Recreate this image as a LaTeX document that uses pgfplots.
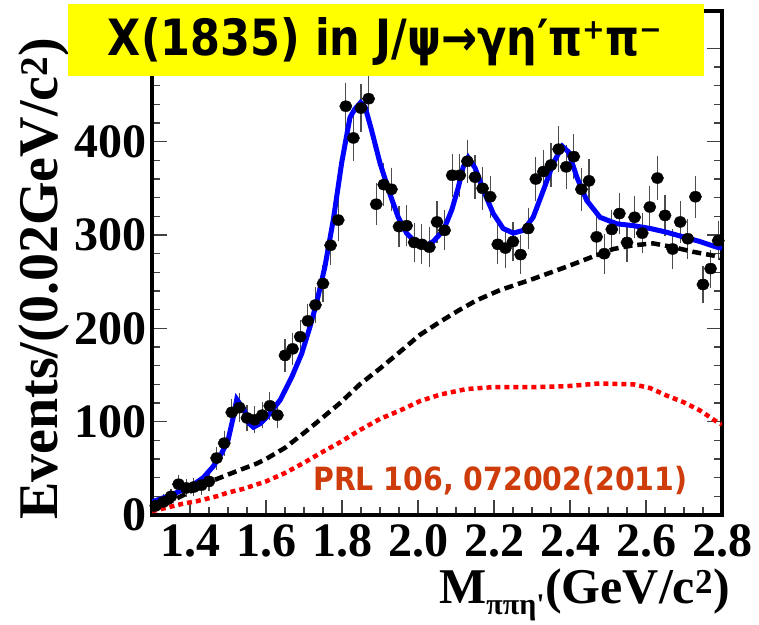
\documentclass[border=0pt]{standalone}
\usepackage{fontspec}
\setmainfont{Liberation Serif}
\newfontfamily\titlefont{DejaVu Sans}
\usepackage{graphicx}
\usepackage{pgfplots}
\pgfplotsset{compat=1.18}
\definecolor{prlred}{RGB}{205,60,10}
\definecolor{ttl}{RGB}{255,255,0}
\pgfplotstableread{
x y e
1.31 10 3
1.33 14 4
1.35 20 4
1.37 33 6
1.39 29 5
1.41 30 5
1.43 32 6
1.45 36 6
1.47 61 8
1.49 77 9
1.51 110 10
1.53 115 11
1.55 104 10
1.57 102 10
1.59 107 10
1.61 117 11
1.63 107 10
1.65 171 13
1.67 178 13
1.69 191 14
1.71 208 14
1.73 225 15
1.75 248 16
1.77 289 17
1.79 316 18
1.81 438 21
1.83 404 20
1.85 436 21
1.87 446 21
1.89 333 18
1.91 354 19
1.93 349 19
1.95 309 18
1.97 310 18
1.99 292 17
2.01 290 17
2.03 287 17
2.05 314 18
2.07 305 17
2.09 364 19
2.11 364 19
2.13 379 19
2.15 362 19
2.17 350 19
2.19 341 18
2.21 290 17
2.23 286 17
2.25 293 17
2.27 279 17
2.29 307 18
2.31 360 19
2.33 368 19
2.35 375 19
2.37 392 20
2.39 373 19
2.41 384 20
2.43 349 19
2.45 358 19
2.47 298 17
2.49 280 17
2.51 306 17
2.53 323 18
2.55 292 17
2.57 319 18
2.59 302 17
2.61 330 18
2.63 361 19
2.65 321 18
2.67 285 17
2.69 314 18
2.71 296 17
2.73 341 18
2.75 247 16
2.77 264 16
2.79 294 17
}\datatable
\begin{document}
\begin{tikzpicture}
\useasboundingbox (0,0) rectangle (759pt,-624pt);
\begin{axis}[
  at={(152pt,-515pt)}, anchor=south west,
  scale only axis, width=570pt, height=504pt,
  xmin=1.3, xmax=2.8, ymin=0, ymax=540,
  xtick={1.4,1.6,1.8,2.0,2.2,2.4,2.6,2.8},
  minor x tick num=3,
  ytick={0,100,200,300,400,500},
  yticklabels={0,100,200,300,400,},
  minor y tick num=4,
  tick align=inside,
  major tick length=15pt, minor tick length=8pt,
  axis line style={line width=3.5pt},
  every tick/.style={line width=1.3pt, black!75},
  /pgf/number format/assume math mode=true,
  xticklabel style={/pgf/number format/.cd, fixed, fixed zerofill, precision=1},
  ticklabel style={font=\fontsize{48}{48}\selectfont\bfseries},
  xticklabel shift=6pt,
  yticklabel shift=2pt,
  clip=true,
]
\addplot[only marks, mark=*, mark size=5.5pt, mark options={xscale=1.12, black},
  error bars/.cd, y dir=both, y explicit,
  error bar style={line width=1.2pt, black!70},
  error mark options={line width=1.2pt, black!70, mark size=4pt}]
  table[x=x, y=y, y error=e] {\datatable};
\addplot[red, line width=4.5pt, dash pattern=on 5pt off 4pt] coordinates {
(1.30,4) (1.34,8) (1.38,12) (1.42,15) (1.47,20) (1.50,24) (1.54,28) (1.60,36) (1.65,45)
(1.70,56) (1.742,66) (1.795,78) (1.847,91) (1.90,103) (1.953,112) (2.005,122)
(2.058,129) (2.128,135) (2.198,137) (2.303,137) (2.391,138) (2.479,141)
(2.567,140) (2.611,136) (2.654,128) (2.698,121) (2.742,112) (2.786,100) (2.80,97)};
\addplot[black, line width=4.5pt, dash pattern=on 9pt off 5pt] coordinates {
(1.30,5) (1.347,14) (1.40,25) (1.461,37) (1.523,47) (1.575,55) (1.60,60) (1.65,72)
(1.70,88) (1.742,102) (1.795,120) (1.847,140) (1.90,157) (1.953,175) (2.005,193)
(2.058,207) (2.106,219) (2.154,230) (2.216,241) (2.303,253) (2.391,266) (2.461,277)
(2.514,285) (2.567,289) (2.619,291) (2.672,287) (2.724,282) (2.777,278) (2.80,275)};
\addplot[blue, line width=5pt] coordinates {
(1.30,14) (1.347,21) (1.40,30) (1.435,40) (1.461,52) (1.483,66) (1.50,80) (1.514,105)
(1.523,124) (1.543,112) (1.556,98) (1.567,94) (1.585,98) (1.602,105) (1.637,123)
(1.668,148) (1.694,173) (1.716,202) (1.733,227) (1.755,266) (1.777,316) (1.799,377)
(1.821,426) (1.834,435) (1.849,442) (1.861,437) (1.878,412) (1.90,377) (1.926,344)
(1.948,319) (1.97,302) (1.997,291) (2.023,289) (2.04,293) (2.067,305) (2.089,327)
(2.106,351) (2.119,373) (2.132,383) (2.15,372) (2.172,348) (2.198,323) (2.224,307)
(2.251,302) (2.277,305) (2.303,319) (2.33,348) (2.356,377) (2.38,395) (2.396,389)
(2.418,362) (2.444,337) (2.479,319) (2.523,312) (2.567,310) (2.611,307) (2.654,303)
(2.698,298) (2.742,293) (2.786,287) (2.80,286)};
\end{axis}
\node[rotate=90, anchor=base west, inner sep=0pt, font=\fontsize{56}{56}\selectfont\bfseries]
  at (57pt,-520pt) {Events/(0.02GeV/c\textsuperscript{2})};
\node[anchor=base east, inner sep=0pt, font=\fontsize{50}{50}\selectfont\bfseries]
  at (730pt,-603pt) {M\textsubscript{\fontsize{30}{30}\selectfont ππη\textquotesingle}(GeV/c\textsuperscript{2})};
\node[anchor=base west, inner sep=0pt, text=prlred] at (313pt,-490pt)
  {\resizebox{374pt}{\height}{\fontsize{32}{32}\titlefont\bfseries PRL 106, 072002(2011)}};
\fill[ttl] (68pt,-4pt) rectangle (704pt,-76pt);
\node[anchor=base, inner sep=0pt] at (385pt,-55pt)
  {\resizebox{554pt}{\height}{\fontsize{50}{50}\titlefont\bfseries X(1835) in J/ψ→γη′π⁺π⁻}};
\end{tikzpicture}
\end{document}
